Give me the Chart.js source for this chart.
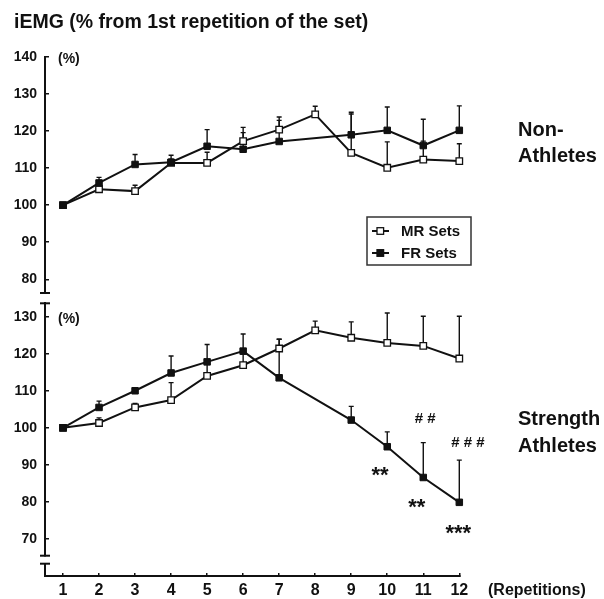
<!DOCTYPE html>
<html><head><meta charset="utf-8">
<script src="https://cdn.jsdelivr.net/npm/chart.js@4"></script>
<style>html,body{margin:0;padding:0;background:#fff}canvas{display:block}</style>
</head><body>
<canvas id="c" width="604" height="599" style="width:604px;height:599px"></canvas>
<script>
// ---- data ----
const repetitions = [1, 2, 3, 4, 5, 6, 7, 8, 9, 10, 11, 12];
const nonAthMR    = [100, 104.3, 103.8, 111.4, 111.4, 117.3, 120.4, 124.5, 114.1, 110.1, 112.3, 111.9];
const nonAthMRErr = [0, 1.2, 1.6, 1.0, 2.9, 3.7, 3.4, 2.2, 10.5, 7.0, 5.0, 4.7];
const nonAthFR    = [100, 106.0, 111.0, 111.6, 115.9, 115.1, 117.2, null, 119.0, 120.2, 116.1, 120.2];
const nonAthFRErr = [0, 1.5, 2.7, 1.9, 4.5, 4.5, 5.7, 0, 6.1, 6.3, 7.1, 6.6];
const athMR       = [100, 101.3, 105.5, 107.5, 114.0, 116.9, 121.4, 126.3, 124.3, 122.9, 122.1, 118.7];
const athMRErr    = [0, 1.4, 1.1, 4.7, 3.5, 3.0, 2.5, 2.5, 4.3, 8.1, 8.0, 11.4];
const athFR       = [100, 105.5, 110.0, 114.8, 117.8, 120.7, 113.5, null, 102.1, 94.9, 86.6, 79.9];
const athFRErr    = [0, 1.7, 0.7, 4.6, 4.7, 4.6, 10.4, 0, 3.7, 4.0, 9.4, 11.4];
const topTicks = [80, 90, 100, 110, 120, 130, 140];
const botTicks = [70, 80, 90, 100, 110, 120, 130];
const sigLabels = ['# #', '# # #', '**', '**', '***'];
const sigX = [11.05, 12.24, 9.8, 10.82, 11.97];
const sigY = [102.7, 96.4, 88.6, 79.95, 72.7];
const seriesNames = ['MR Sets', 'FR Sets'];

// ---- styling ----
const FONT = '"Liberation Sans", Arial, Helvetica, sans-serif';
const BLACK = '#111';

function pts(vals) { return vals.map((v, i) => ({ x: repetitions[i], y: v })); }
function ds(label, vals, errs, axis, filled) {
  return {
    label, data: pts(vals), errors: errs, yAxisID: axis, xAxisID: 'x',
    borderColor: BLACK, borderWidth: 2, backgroundColor: filled ? BLACK : '#fff',
    pointStyle: 'rect', pointRadius: 4.6, pointHoverRadius: 4.6,
    pointBorderWidth: filled ? 1 : 1.3, pointBorderColor: BLACK,
    pointBackgroundColor: filled ? BLACK : '#fff',
    spanGaps: true, tension: 0, fill: false, clip: false,
    segment: { borderWidth: c => (c.p1DataIndex - c.p0DataIndex > 1 ? 1 : 2) }
  };
}

const errorBars = {
  id: 'errorBars',
  beforeDatasetsDraw(chart) {
    const ctx = chart.ctx, xs = chart.scales.x;
    ctx.save(); ctx.strokeStyle = BLACK; ctx.lineWidth = 1.4;
    chart.data.datasets.forEach(d => {
      const ys = chart.scales[d.yAxisID];
      d.data.forEach((p, j) => {
        const e = d.errors[j];
        if (p.y == null || !e) return;
        const x = xs.getPixelForValue(p.x), y0 = ys.getPixelForValue(p.y), y1 = ys.getPixelForValue(p.y + e);
        ctx.beginPath(); ctx.moveTo(x, y0); ctx.lineTo(x, y1);
        ctx.moveTo(x - 2.5, y1); ctx.lineTo(x + 2.5, y1); ctx.stroke();
      });
    });
    ctx.restore();
  }
};

const decorations = {
  id: 'decorations',
  afterDraw(chart) {
    const ctx = chart.ctx, ca = chart.chartArea, xs = chart.scales.x;
    const yT = chart.scales.yTop, yB = chart.scales.yBot;
    ctx.save();
    ctx.fillStyle = BLACK; ctx.strokeStyle = BLACK;
    // axis break caps and stub
    ctx.lineWidth = 2;
    const ax = ca.left;
    const stubTop = yB.bottom + 8;
    [yT.bottom, yB.top, yB.bottom, stubTop].forEach(y => {
      ctx.beginPath(); ctx.moveTo(ax - 5, y); ctx.lineTo(ax + 5, y); ctx.stroke();
    });
    ctx.beginPath(); ctx.moveTo(ax, stubTop); ctx.lineTo(ax, ca.bottom); ctx.stroke();

    // title
    ctx.textAlign = 'left'; ctx.textBaseline = 'alphabetic';
    ctx.font = 'bold 19.5px ' + FONT;
    ctx.fillText('iEMG (% from 1st repetition of the set)', 14, 28);
    // (%) labels
    ctx.font = 'bold 14px ' + FONT; ctx.textBaseline = 'middle';
    ctx.fillText('(%)', 58, yT.getPixelForValue(139.3));
    ctx.fillText('(%)', 58, yB.getPixelForValue(129.3));
    // panel labels
    ctx.font = 'bold 20px ' + FONT; ctx.textBaseline = 'alphabetic';
    ctx.fillText('Non-', 518, 136);
    ctx.fillText('Athletes', 518, 162);
    ctx.fillText('Strength', 518, 425);
    ctx.fillText('Athletes', 518, 452);
    // x axis unit
    ctx.font = 'bold 16px ' + FONT; ctx.textBaseline = 'middle';
    ctx.fillText('(Repetitions)', 488, ca.bottom + 15);
    // significance markers
    ctx.textAlign = 'center'; ctx.textBaseline = 'alphabetic';
    sigLabels.forEach((s, i) => {
      const isHash = s.indexOf('#') >= 0;
      const fs = isHash ? 15 : 22;
      ctx.font = 'bold ' + fs + 'px ' + FONT;
      const px = xs.getPixelForValue(sigX[i]);
      const py = yB.getPixelForValue(sigY[i]);
      ctx.fillText(s, px, py + (isHash ? 0.36 : 0.52) * fs);
    });
    // legend
    const lx = 367, ly = 217, lw = 104, lh = 48;
    ctx.lineWidth = 1.5; ctx.strokeStyle = '#333';
    ctx.strokeRect(lx, ly, lw, lh);
    ctx.strokeStyle = BLACK;
    ctx.font = 'bold 15px ' + FONT; ctx.textAlign = 'left'; ctx.textBaseline = 'middle';
    seriesNames.forEach((name, i) => {
      const y = ly + 14 + i * 22;
      ctx.lineWidth = 2;
      ctx.beginPath(); ctx.moveTo(372, y); ctx.lineTo(389, y); ctx.stroke();
      ctx.lineWidth = 1.3;
      ctx.fillStyle = i === 0 ? '#fff' : BLACK;
      ctx.fillRect(377, y - 3.3, 6.6, 6.6);
      ctx.strokeRect(377, y - 3.3, 6.6, 6.6);
      ctx.fillStyle = BLACK;
      ctx.fillText(name, 401, y + 0.5);
    });
    ctx.restore();
  }
};

function yAxis(min, max, ticks, weightPx, order) {
  return {
    type: 'linear', position: 'left', stack: 'v', stackWeight: weightPx, weight: order,
    min, max,
    afterBuildTicks: s => { s.ticks = ticks.map(v => ({ value: v })); },
    afterFit: s => { s.width = 45; },
    grid: { display: true, drawOnChartArea: false, drawTicks: true, tickLength: -4, color: BLACK, lineWidth: 1.5 },
    border: { display: true, color: BLACK, width: 2 },
    ticks: { color: BLACK, padding: 12, font: { family: FONT, size: 14, weight: 'bold' } }
  };
}
function gapAxis(weightPx, order) {
  return {
    type: 'linear', position: 'left', stack: 'v', stackWeight: weightPx, weight: order,
    afterFit: s => { s.width = 45; },
    grid: { display: false }, border: { display: false }, ticks: { display: false }
  };
}

new Chart(document.getElementById('c'), {
  type: 'line',
  data: {
    datasets: [
      ds('FR Sets', nonAthFR, nonAthFRErr, 'yTop', true),
      ds('MR Sets', nonAthMR, nonAthMRErr, 'yTop', false),
      ds('FR Sets', athFR, athFRErr, 'yBot', true),
      ds('MR Sets', athMR, athMRErr, 'yBot', false)
    ]
  },
  options: {
    responsive: false, devicePixelRatio: 1, animation: false, events: [],
    layout: { padding: { top: 57, right: 144.7, bottom: 0, left: 0 } },
    plugins: { legend: { display: false }, tooltip: { enabled: false }, title: { display: false } },
    scales: {
      x: {
        type: 'linear', position: 'bottom', min: 0.5, max: 12,
        afterBuildTicks: s => { s.ticks = repetitions.map(v => ({ value: v })); },
        afterFit: s => { s.height = 23; },
        grid: { display: true, drawOnChartArea: false, drawTicks: true, tickLength: -3, color: BLACK, lineWidth: 1.5 },
        border: { display: true, color: BLACK, width: 2 },
        ticks: { color: BLACK, padding: 8, maxRotation: 0, autoSkip: false, font: { family: FONT, size: 16, weight: 'bold' } }
      },
      yTop: yAxis(76.3, 140, topTicks, 236, 4),
      gapA: gapAxis(10.3, 3),
      yBot: yAxis(65.5, 133.6, botTicks, 252.4, 2),
      gapB: gapAxis(20.3, 1)
    }
  },
  plugins: [errorBars, decorations]
});
</script>
</body></html>
